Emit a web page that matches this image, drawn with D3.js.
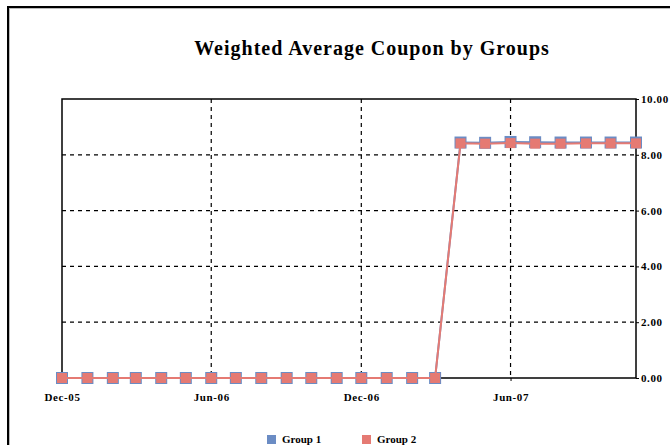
<!DOCTYPE html>
<html>
<head>
<meta charset="utf-8">
<script src="https://cdn.jsdelivr.net/npm/d3@7"></script>
<style>
  body { margin: 0; background: #fff; }
  #chart { width: 670px; height: 445px; overflow: hidden; }
</style>
</head>
<body>
<div id="chart"></div>
<script>
var months = ["2005-12", "2006-01", "2006-02", "2006-03", "2006-04", "2006-05", "2006-06",
  "2006-07", "2006-08", "2006-09", "2006-10", "2006-11", "2006-12", "2007-01", "2007-02",
  "2007-03", "2007-04", "2007-05", "2007-06", "2007-07", "2007-08", "2007-09", "2007-10", "2007-11"];
var group1 = [0, 0, 0, 0, 0, 0, 0, 0, 0, 0, 0, 0, 0, 0, 0, 0,
  8.44, 8.43, 8.46, 8.45, 8.44, 8.44, 8.44, 8.44];
var group2 = [0, 0, 0, 0, 0, 0, 0, 0, 0, 0, 0, 0, 0, 0, 0, 0,
  8.41, 8.40, 8.42, 8.40, 8.40, 8.41, 8.41, 8.41];
var seriesNames = ["Group 1", "Group 2"];
var xTicks = ["2005-12", "2006-06", "2006-12", "2007-06"];
var yTicks = [0, 2, 4, 6, 8, 10];

var chart = {
  width: 670,
  height: 445,
  top: 99,
  right: 34,
  bottom: 67,
  left: 62,
};

var parseMonth = d3.timeParse("%Y-%m");
var colors = { "Group 1": "#6b8cc4", "Group 2": "#e57a73" };

var svg = d3
  .select("#chart")
  .append("svg")
  .attr("width", chart.width)
  .attr("height", chart.height)
  .style("font-family", "'Liberation Serif', 'Times New Roman', serif");

/* outer frame */
svg.append("rect")
  .attr("x", 9).attr("y", 8)
  .attr("width", 700).attr("height", 500)
  .attr("fill", "none").attr("stroke", "#bbb").attr("stroke-width", 2);
svg.append("rect")
  .attr("x", 8).attr("y", 7)
  .attr("width", 700).attr("height", 500)
  .attr("fill", "none").attr("stroke", "#000").attr("stroke-width", 2);

svg.append("text")
  .attr("x", 372)
  .attr("y", 55)
  .attr("text-anchor", "middle")
  .style("font-size", "20px")
  .style("font-weight", "bold")
  .style("letter-spacing", "1px")
  .text("Weighted Average Coupon by Groups");

var x = d3
  .scaleTime()
  .domain([parseMonth(months[0]), parseMonth(months[months.length - 1])])
  .range([chart.left, chart.width - chart.right]);

var y = d3
  .scaleLinear()
  .domain([0, 10])
  .range([chart.height - chart.bottom, chart.top]);

var plotBottom = chart.height - chart.bottom;
var plotRight = chart.width - chart.right;

/* grid lines */
svg.append("g")
  .selectAll("line")
  .data(yTicks.filter((d) => d > 0 && d < 10))
  .join("line")
  .attr("x1", chart.left).attr("x2", plotRight)
  .attr("y1", (d) => y(d)).attr("y2", (d) => y(d))
  .attr("stroke", "#000").attr("stroke-width", 1.2)
  .attr("stroke-dasharray", "4,4");

svg.append("g")
  .selectAll("line")
  .data(xTicks.slice(1))
  .join("line")
  .attr("x1", (d) => x(parseMonth(d))).attr("x2", (d) => x(parseMonth(d)))
  .attr("y1", chart.top).attr("y2", plotBottom)
  .attr("stroke", "#000").attr("stroke-width", 1.2)
  .attr("stroke-dasharray", "4,4");

/* plot frame */
svg.append("rect")
  .attr("x", chart.left).attr("y", chart.top)
  .attr("width", plotRight - chart.left).attr("height", plotBottom - chart.top)
  .attr("fill", "none").attr("stroke", "#000").attr("stroke-width", 1.5);

/* x axis */
var xAxis = (g) =>
  g
    .attr("transform", `translate(0, ${plotBottom})`)
    .call(d3.axisBottom(x)
      .tickValues(xTicks.map(parseMonth))
      .tickSize(3)
      .tickFormat(d3.timeFormat("%b-%y")));

svg.append("g").call(xAxis)
  .call((g) => g.select(".domain").remove())
  .call((g) => g.selectAll("text")
    .attr("dy", "1.5em")
    .style("font-family", "'Liberation Serif', serif")
    .style("font-size", "11px")
    .style("font-weight", "bold")
    .style("letter-spacing", "0.6px"));

/* right y axis */
var yAxis = (g) =>
  g
    .attr("transform", `translate(${plotRight}, 0)`)
    .call(d3.axisRight(y).tickValues(yTicks).tickSize(3).tickFormat(d3.format(".2f")));

svg.append("g").call(yAxis)
  .call((g) => g.select(".domain").remove())
  .call((g) => g.selectAll("text")
    .attr("x", 5)
    .style("font-family", "'Liberation Serif', serif")
    .style("font-size", "11px")
    .style("font-weight", "bold")
    .style("letter-spacing", "0.6px"));

function plotSeries(name, values, size) {
  var data = months.map((m, i) => ({ date: parseMonth(m), value: values[i] }));
  var line = d3.line()
    .x((d) => x(d.date))
    .y((d) => y(d.value));

  svg.append("path")
    .datum(data)
    .attr("fill", "none")
    .attr("stroke", colors[name])
    .attr("stroke-width", 2)
    .attr("d", line);

  svg.append("g")
    .attr("fill", colors[name])
    .selectAll("rect")
    .data(data)
    .join("rect")
    .attr("x", (d) => x(d.date) - size / 2)
    .attr("y", (d) => y(d.value) - size / 2)
    .attr("width", size)
    .attr("height", size);
}

plotSeries("Group 1", group1, 12);
plotSeries("Group 2", group2, 10);

/* legend */
var legend = svg.append("g")
  .selectAll("g")
  .data(seriesNames)
  .join("g")
  .attr("transform", (d, i) => `translate(${267 + i * 95}, 434)`);

legend.append("rect")
  .attr("y", 1)
  .attr("width", 9).attr("height", 9)
  .attr("fill", (d) => colors[d]);

legend.append("text")
  .attr("x", 15).attr("y", 9)
  .style("font-size", "11px")
  .style("font-weight", "bold")
  .text((d) => d);
</script>
</body>
</html>
